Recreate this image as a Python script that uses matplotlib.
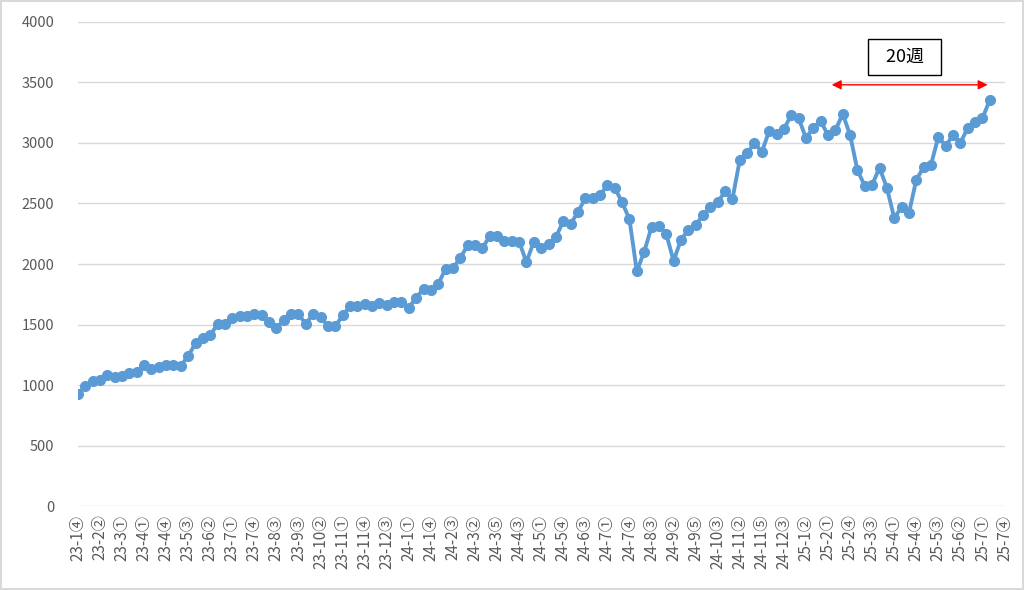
import numpy as np
import matplotlib.pyplot as plt
from matplotlib.patches import FancyArrowPatch

plt.rcParams['font.family'] = ['Noto Sans CJK JP', 'DejaVu Sans']

# valori settimanali
valori = [925, 990, 1035, 1040, 1080, 1070, 1075, 1100, 1105, 1165,
          1135, 1150, 1165, 1170, 1160, 1240, 1345, 1390, 1410, 1505,
          1505, 1555, 1570, 1570, 1585, 1575, 1520, 1470, 1535, 1585,
          1585, 1505, 1590, 1560, 1490, 1485, 1575, 1650, 1650, 1670,
          1650, 1675, 1665, 1690, 1690, 1640, 1720, 1795, 1785, 1835,
          1960, 1965, 2050, 2155, 2155, 2130, 2230, 2230, 2190, 2190,
          2185, 2015, 2185, 2135, 2165, 2220, 2355, 2330, 2430, 2545,
          2545, 2570, 2650, 2630, 2510, 2370, 1940, 2100, 2305, 2315,
          2250, 2025, 2200, 2280, 2320, 2405, 2470, 2510, 2600, 2535,
          2860, 2915, 3000, 2925, 3100, 3075, 3115, 3230, 3205, 3040,
          3125, 3180, 3065, 3105, 3240, 3065, 2775, 2645, 2655, 2795,
          2630, 2380, 2470, 2420, 2695, 2800, 2820, 3050, 2975, 3065,
          3000, 3125, 3175, 3205, 3355]

# etichette dell'asse x (una ogni 3 settimane)
etichette = ['23-1④', '23-2②', '23-3①', '23-4①', '23-4④', '23-5③', '23-6②',
             '23-7①', '23-7④', '23-8③', '23-9③', '23-10②', '23-11①', '23-11④',
             '23-12③', '24-1①', '24-1④', '24-2③', '24-3②', '24-3⑤', '24-4③',
             '24-5①', '24-5④', '24-6③', '24-7①', '24-7④', '24-8③', '24-9②',
             '24-9⑤', '24-10③', '24-11②', '24-11⑤', '24-12③', '25-1②', '25-2①',
             '25-2④', '25-3③', '25-4①', '25-4④', '25-5③', '25-6②', '25-7①',
             '25-7④']
passo = 3
n_cat = passo * (len(etichette) - 1) + 1

# annotazione
testo_box = '20週'
freccia_da = 102.5
freccia_a = 123.7

fig = plt.figure(figsize=(10.24, 5.9), dpi=100, edgecolor='#d9d9d9', linewidth=1.5)
ax = fig.add_axes([0.076, 0.142, 0.905, 0.821])

x = np.arange(len(valori))
ax.plot(x, valori, color='#5b9bd5', lw=2.8, marker='o', ms=7, zorder=3)

ax.set_xlim(0, n_cat - 1)
ax.set_ylim(0, 4000)
ax.set_yticks(np.arange(0, 4001, 500))
ax.set_xticks(np.arange(0, n_cat, passo))
ax.set_xticklabels(etichette, rotation=90)
ax.tick_params(axis='x', length=0, pad=6, labelsize=11, labelcolor='#595959')
ax.tick_params(axis='y', length=0, pad=17, labelsize=10.5, labelcolor='#595959')
ax.grid(axis='y', color='#d9d9d9', lw=1)
ax.set_axisbelow(True)
for s in ax.spines.values():
    s.set_visible(False)

# freccia rossa a due punte
y_freccia = 3480
ax.add_patch(FancyArrowPatch((freccia_da, y_freccia), (freccia_a, y_freccia),
                             arrowstyle='<|-|>', mutation_scale=14,
                             color='red', lw=1, shrinkA=0, shrinkB=0, zorder=4))
ax.text(112.4, 3710, '  ' + testo_box + '  ', ha='center', va='center', fontsize=13,
        bbox=dict(boxstyle='square,pad=0.5', fc='white', ec='black', lw=1))

fig.savefig('out.png', dpi=100)
